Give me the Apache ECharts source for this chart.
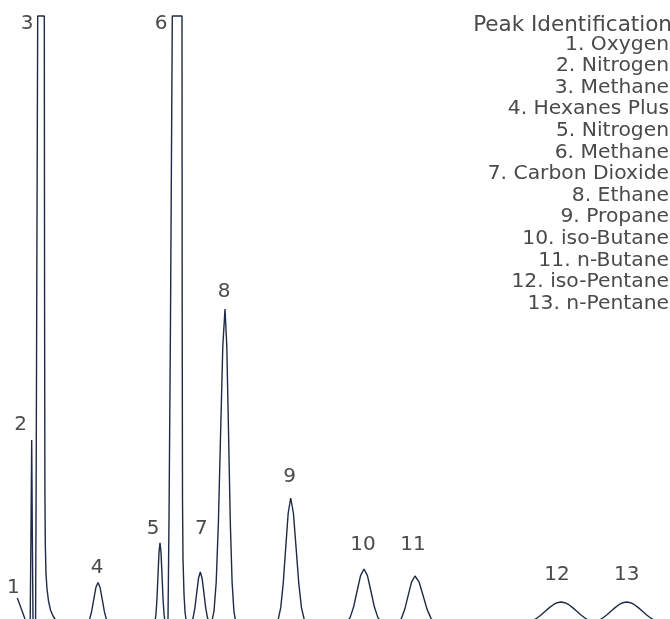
<!DOCTYPE html>
<html>
<head>
<meta charset="utf-8">
<script src="https://cdn.jsdelivr.net/npm/echarts@6/dist/echarts.min.js"></script>
<style>
html,body{margin:0;padding:0;background:#fff;}
#chart{width:670px;height:619px;}
</style>
</head>
<body>
<div id="chart"></div>
<script>
// Chromatogram trace (retention axis, detector signal)
const traceTime = [
  17.3, 19, 21, 23, 25, 27, 29,
  30.2, 31.0, 31.7, 32.3, 33.0, 33.8,
  35.0, 35.6, 36.2, 37.0, 37.7, 44.3, 44.6, 44.9, 45.3, 46.0, 47.0, 48.5, 50.5, 53, 55, 58, 62, 70,
  85.4, 87.5, 89.6, 91.7, 93.8, 95.9, 98, 100.1, 102.2, 104.3, 106.4, 108.5, 110.6,
  150, 154, 155, 156, 157, 158, 159, 160, 161, 162, 163, 164, 165, 166,
  167.3, 168, 169, 170.5, 172.3, 182, 182.2, 182.5, 183, 184, 185, 186, 187.5, 189.5,
  191.3, 193.1, 194.9, 196.7, 198.5, 200.3, 202.1, 203.9, 205.7, 207.5, 209.3,
  211.8, 214, 216.2, 218.4, 220.6, 222.8, 225, 226.8, 228.55, 230.3, 232.1, 233.9, 235.65, 237.4,
  270, 275.7, 278.2, 280.7, 283.2, 285.7, 288.2, 290.7, 293.4, 296.1, 298.8, 301.5, 304.2, 306.9, 310,
  343.3, 346.75, 350.2, 353.65, 357.1, 360.55, 364, 367.45, 370.9, 374.35, 377.8, 381.25, 384.7,
  391, 394.6, 398, 401.4, 404.8, 408.2, 411.6, 415, 419, 423, 427, 431, 435, 439, 445,
  500, 522.3, 530, 533.9, 537.8, 541.6, 545.5, 549.4, 553.3, 557.1, 561, 564.9, 568.8, 572.6, 576.5, 580.4, 584.3, 588.1, 592,
  595.7, 599.6, 603.45, 607.3, 611.2, 615.1, 618.95, 622.8, 626.7, 630.6, 634.45, 638.3, 642.2, 646.1, 649.95, 653.8, 657.7, 665.45, 670
];
const traceSignal = [
  21, 16.5, 11, 5.5, 0, -3.5, -5,
  0, 90, 179, 90, 0, -5,
  -4, 0, 150, 400, 603, 603, 300, 130, 75, 45, 30, 18, 9, 3, 0, -3, -5, -6,
  -5.5, -4.1, -0.3, 7.8, 19.8, 31.5, 36.5, 31.5, 19.8, 7.8, -0.3, -4.1, -5.5,
  -6, -5.1, -2.4, 5.1, 20.7, 44, 66.6, 76.3, 66.6, 44, 20.7, 5.1, -2.4, -5,
  -4, 0, 100, 300, 603, 603, 300, 120, 60, 25, 7, 0, -3.5, -5,
  -3.7, 1.2, 11.2, 26.2, 40.7, 47, 40.7, 26.2, 11.2, 1.2, -3.7,
  -2.5, 7.9, 36.7, 96.7, 185.8, 272.7, 310, 272.7, 185.8, 96.7, 36.7, 7.9, -2.5, -5.3,
  -6, -4.6, -0.4, 11.1, 35.3, 71.1, 106, 121, 106, 71.1, 35.3, 11.1, -0.4, -4.6, -6,
  -5.4, -3.5, 1.6, 12.2, 28, 43.4, 50, 43.4, 28, 12.2, 1.6, -3.5, -5.4,
  -6, -5.5, -3.8, 0.6, 9.9, 23.7, 37.2, 43, 37.2, 23.7, 9.9, 0.6, -3.8, -5.5, -6,
  -6, -5, -2.9, -1.0, 1.5, 4.5, 8, 11.4, 14.3, 16.3, 17, 16.3, 14.3, 11.4, 8, 4.5, 1.5, -1.0, -2.9,
  -2.9, -1.0, 1.5, 4.5, 8, 11.4, 14.3, 16.3, 17, 16.3, 14.3, 11.4, 8, 4.5, 1.5, -1.0, -2.9, -5, -6
];

// Peaks
const peakNumbers = [1, 2, 3, 4, 5, 6, 7, 8, 9, 10, 11, 12, 13];
const peakTime    = [17.3, 31.7, 41, 98, 160, 177, 200.3, 225, 290.7, 364, 415, 561, 626.7];
const peakSignal  = [21, 179, 603, 36.5, 76.3, 603, 47, 310, 121, 50, 43, 17, 17];
const compoundNames = [
  'Oxygen', 'Nitrogen', 'Methane', 'Hexanes Plus', 'Nitrogen', 'Methane',
  'Carbon Dioxide', 'Ethane', 'Propane', 'iso-Butane', 'n-Butane', 'iso-Pentane', 'n-Pentane'
];
const legendTitle = 'Peak Identification';

// Label placement (style, in pixels) relative to each peak apex
const labelNudge = [
  [-4, -10], [-11, -15], [-14, 8], [-1, -14.5], [-7, -14], [-16, 8], [1, -43],
  [-1, -17], [-1, -21.5], [-1, -24], [-2, -31], [-4, -27], [0, -27]
];

const FONT = 'DejaVu Sans';
const TEXT_COLOR = '#4a4a4a';
const LINE_COLOR = '#1d2b47';

const traceData = traceTime.map((t, i) => [t, traceSignal[i]]);
const peakData = peakNumbers.map((n, i) => ({
  value: [peakTime[i], peakSignal[i]],
  name: String(n),
  label: { offset: labelNudge[i] }
}));
const listText = compoundNames.map((c, i) => peakNumbers[i] + '. ' + c).join('\n');

const chart = echarts.init(document.getElementById('chart'), null, { renderer: 'canvas' });
chart.setOption({
  animation: false,
  backgroundColor: '#ffffff',
  grid: { left: 0, right: 0, top: 0, bottom: 0, containLabel: false },
  xAxis: { type: 'value', min: 0, max: 670, show: false },
  yAxis: { type: 'value', min: 0, max: 619, show: false },
  series: [
    {
      type: 'line',
      data: traceData,
      showSymbol: false,
      clip: true,
      lineStyle: { color: LINE_COLOR, width: 1.4 },
      silent: true
    },
    {
      type: 'scatter',
      data: peakData,
      symbolSize: 0.01,
      itemStyle: { color: TEXT_COLOR, opacity: 1 },
      label: {
        show: true,
        position: [0, 0],
        align: 'center',
        verticalAlign: 'middle',
        formatter: p => p.name,
        color: TEXT_COLOR,
        opacity: 1,
        fontFamily: FONT,
        fontSize: 20,
        textBorderWidth: 0
      },
      silent: true
    }
  ],
  graphic: [
    {
      type: 'text',
      x: 672, y: 14,
      style: {
        text: legendTitle,
        fill: TEXT_COLOR,
        font: '21.5px "' + FONT + '"',
        align: 'right',
        verticalAlign: 'top'
      }
    },
    {
      type: 'text',
      x: 669, y: 33.5,
      style: {
        text: listText,
        fill: TEXT_COLOR,
        font: '20.3px "' + FONT + '"',
        lineHeight: 21.6,
        align: 'right',
        verticalAlign: 'top'
      }
    }
  ]
});
</script>
</body>
</html>
